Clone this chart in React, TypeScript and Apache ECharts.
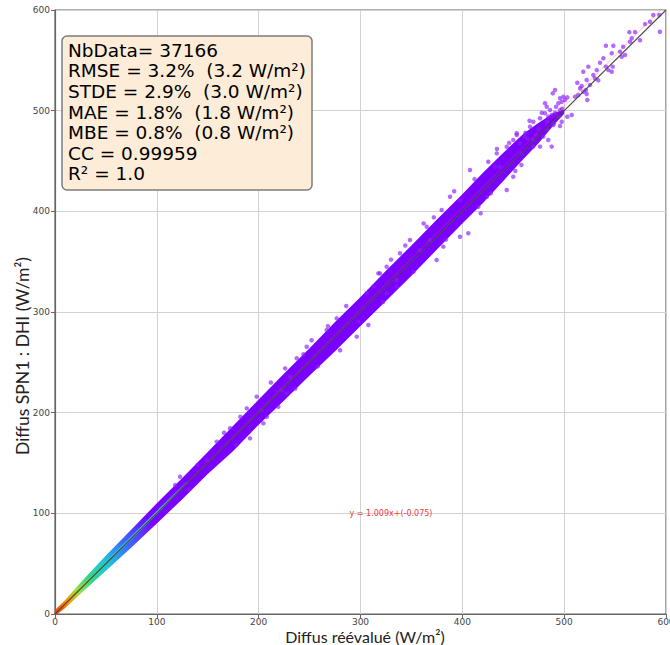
import React, { useEffect, useRef } from "react";
import * as echarts from "echarts";

// Dense core of the scatter cloud: lower / upper envelope
const bandX = [0, 10, 25, 50, 75, 100, 125, 150, 175, 200, 225, 250, 275, 300, 325, 350, 375, 400, 420, 440, 460, 475, 490, 500];
const bandLow = [-2, 6, 20, 43, 66, 90, 114, 139, 162, 188, 212, 237, 261, 286, 311, 336, 362, 388, 408, 430, 452, 468, 486, 497];
const bandHigh = [4, 14, 31, 58, 84, 110, 135, 161, 187, 213, 239, 264, 290, 315, 341, 366, 392, 417, 438, 458, 477, 488, 498, 501];

// Sparse points outside the core
const sparsePoints: [number, number][] = [
  [587.5, 595], [593.4, 595], [594, 578.4], [579.4, 586], [584.3, 588.3], [564, 578],
  [569.6, 578], [566.3, 572], [564.7, 568.5], [574.5, 570], [558, 563.5], [541, 564.5],
  [548.3, 564.5], [546.7, 557], [554.9, 558.6], [556.5, 553.6], [559.8, 555.3], [538.5, 552],
  [535.2, 547.6], [541, 543.7], [532, 540.3], [547.7, 543.7], [543.4, 540.3], [546.7, 538.7],
  [523.7, 543.7], [518.8, 538.7], [528.6, 535.4], [522.1, 530.4], [530.3, 532], [525.4, 525.5],
  [533.5, 530.1], [512.9, 527.8], [515.6, 522.2], [517.2, 524.5], [518.8, 518.8], [521.4, 520.5],
  [513.9, 515.6], [510.7, 513.9], [522.7, 510.6], [522.1, 516.5], [491, 520.5], [488.8, 517.2],
  [495.9, 512.3], [499.2, 513.9], [494.3, 507.3], [500.8, 510.6], [503.1, 513.2], [497.6, 508.9],
  [492, 503.9], [482.9, 503.9], [481.2, 507.3], [486.1, 500.6], [495.9, 500.6], [487.8, 495.7],
  [481.2, 497.4], [494.3, 494], [507.4, 495.7], [503.1, 494], [497.6, 489], [490, 487.4],
  [484.4, 494], [476.3, 492.4], [469.7, 489], [466.5, 484], [474.6, 482.4], [482.9, 480.8],
  [489.3, 485.7], [495.9, 484.7], [484.4, 470.9], [479.5, 474.2], [469.7, 470.9], [461.5, 474.2],
  [453.4, 475.9], [450, 470.9], [456.6, 467.6], [487.8, 464.3], [469.7, 464.3], [476.3, 464.3],
  [453.4, 477.5], [407.5, 441], [433.8, 457.6], [425.5, 449.3], [437, 444.3], [443.6, 421.2],
  [450, 434.4], [379.7, 401.3], [397.7, 411.2], [387.9, 414.5], [405.9, 378.2], [397.7, 374.8],
  [415.7, 404.6], [424, 414.5], [348.6, 371.5], [365, 384.7], [368.3, 371.5], [358.4, 361.6],
  [338.8, 358.3], [381.3, 364.9], [374.8, 351.6], [319.2, 338.4], [325.7, 345], [335.6, 331.8],
  [306.1, 318.6], [312.6, 325.2], [443.6, 464.2], [432.1, 444.3],
  [317.5, 338.4], [296.3, 275.5], [237.4, 254], [297.8, 290.4], [307.7, 287.1], [325.7, 318.6],
  [335.6, 325.2], [266.8, 282.1], [276.6, 293.7], [247.2, 265.5], [222.6, 222.5], [230.8, 235.7],
  [204.6, 189.4], [198.1, 215.9], [227.5, 219.2], [219.3, 205.9],
  [191.5, 174.5], [158.8, 171.2], [171.9, 184.5], [188.3, 204.3], [203, 202.6], [149, 153],
  [122.8, 136.4],
  [412, 432], [418, 398], [428, 418], [434, 462], [446, 468], [452, 440], [458, 446], [462, 478],
  [392, 420], [384, 372], [372, 394], [362, 388], [352, 340], [344, 366], [330, 352], [322, 310],
  [286, 306], [280, 262], [268, 286], [258, 246], [252, 272], [244, 258], [236, 224], [226, 244],
  [212, 230], [208, 196], [182, 196], [178, 168], [166, 180], [140, 148], [132, 124], [118, 128],
  [478, 498], [472, 476], [464, 472], [458, 458], [466, 490], [483, 489], [491, 498], [498, 502],
];

// Density-coloured centre of the cloud near the origin
const coreLineX = [0, 130];
const coreLineY = [0, 131];

// 1:1 reference line and fitted line
const oneToOneX = [0, 600];
const oneToOneY = [0, 600];
const fitX = [0, 600];
const fitY = [-0.075, 605.3];

const fitLabel = "y = 1.009x+(-0.075)";
const fitLabelPos = [330, 100];

const statLines = [
  "NbData= 37166",
  "RMSE = 3.2%  (3.2 W/m²)",
  "STDE = 2.9%  (3.0 W/m²)",
  "MAE = 1.8%  (1.8 W/m²)",
  "MBE = 0.8%  (0.8 W/m²)",
  "CC = 0.99959",
  "R² = 1.0",
];

const xTitle = "Diffus réévalué (W/m²)";
const yTitle = "Diffus SPN1 : DHI (W/m²)";

export default function App() {
  const ref = useRef<HTMLDivElement>(null);

  useEffect(() => {
    if (!ref.current) return;
    const chart = echarts.init(ref.current, undefined, { renderer: "svg" });

    const bandGradient = new echarts.graphic.LinearGradient(0, 1, 1, 0, [
      { offset: 0, color: "#ff2a00" },
      { offset: 0.025, color: "#ff8c00" },
      { offset: 0.045, color: "#9be23a" },
      { offset: 0.07, color: "#2ed88c" },
      { offset: 0.1, color: "#1ec8d8" },
      { offset: 0.14, color: "#3a6cff" },
      { offset: 0.19, color: "#7a00ff" },
      { offset: 1, color: "#7a00ff" },
    ]);

    const coreGradient = new echarts.graphic.LinearGradient(0, 1, 1, 0, [
      { offset: 0, color: "#ff3000" },
      { offset: 0.1, color: "#ff9900" },
      { offset: 0.2, color: "#a0e030" },
      { offset: 0.32, color: "#30d890" },
      { offset: 0.45, color: "#20c8d8" },
      { offset: 0.8, color: "#30b8e8" },
      { offset: 1, color: "#6a30ff" },
    ]);

    const axisCommon = {
      type: "value" as const,
      min: 0,
      max: 600,
      interval: 100,
      axisLine: { show: true, lineStyle: { color: "#666", width: 1.2 } },
      axisTick: { show: true, length: 4, lineStyle: { color: "#666" } },
      splitLine: { show: true, lineStyle: { color: "#d2d2d2", width: 1 } },
    };

    chart.setOption({
      animation: false,
      backgroundColor: "#ffffff",
      grid: {
        left: 55,
        right: 4,
        top: 10,
        bottom: 31,
        outerBoundsMode: "none",
        containLabel: false,
        show: true,
        borderColor: "#666",
        borderWidth: 1.2,
        backgroundColor: "transparent",
      },
      xAxis: {
        ...axisCommon,
        axisLabel: { color: "#444", fontSize: 9, fontFamily: "DejaVu Sans", margin: 3 },
      },
      yAxis: {
        ...axisCommon,
        axisLabel: { color: "#444", fontSize: 9, fontFamily: "DejaVu Sans", margin: 5 },
      },
      series: [
        {
          type: "custom",
          name: "band",
          clip: true,
          z: 2,
          data: bandX.map((x, i) => [x, bandLow[i], bandHigh[i]]),
          renderItem: (params: any, api: any) => {
            if (params.dataIndex !== 0) return null;
            const pts: number[][] = [];
            for (let i = 0; i < bandX.length; i++) pts.push(api.coord([bandX[i], bandHigh[i]]));
            for (let i = bandX.length - 1; i >= 0; i--) pts.push(api.coord([bandX[i], bandLow[i]]));
            return {
              type: "polygon",
              shape: { points: pts },
              style: { fill: bandGradient, stroke: "none" },
            };
          },
        },
        {
          type: "scatter",
          name: "points",
          z: 3,
          symbolSize: 4.5,
          itemStyle: { color: "#8a1cff", opacity: 0.65 },
          data: sparsePoints,
        },
        {
          type: "line",
          name: "core",
          z: 4,
          symbol: "none",
          lineStyle: { color: coreGradient, width: 2.5 },
          data: coreLineX.map((x, i) => [x, coreLineY[i]]),
        },
        {
          type: "line",
          name: "fit",
          z: 5,
          symbol: "none",
          lineStyle: { color: "rgba(255,60,60,0.35)", width: 1 },
          data: fitX.map((x, i) => [x, fitY[i]]),
          markPoint: {
            symbol: "circle",
            symbolSize: 0,
            silent: true,
            label: {
              show: true,
              position: "inside",
              formatter: fitLabel,
              color: "#e8403f",
              fontSize: 8,
              fontFamily: "DejaVu Sans",
            },
            data: [{ coord: fitLabelPos, value: 0 }],
          },
        },
        {
          type: "line",
          name: "1:1",
          z: 6,
          symbol: "none",
          lineStyle: { color: "#4a4a4a", width: 1.1 },
          data: oneToOneX.map((x, i) => [x, oneToOneY[i]]),
        },
      ],
      graphic: [
        {
          type: "rect",
          z: 100,
          shape: { x: 62, y: 36, width: 250, height: 154, r: 5 },
          style: { fill: "#fcecd8", stroke: "#7c7c7c", lineWidth: 1.5 },
        },
        {
          type: "text",
          z: 101,
          x: 68,
          y: 40,
          style: {
            text: statLines.join("\n"),
            fill: "#000",
            font: "18.5px 'DejaVu Sans'",
            lineHeight: 20.6,
            textAlign: "left",
            textVerticalAlign: "top",
          },
        },
        {
          type: "text",
          x: 365,
          y: 636,
          style: {
            text: xTitle,
            fill: "#222",
            font: "16px Lato",
            textAlign: "center",
            textVerticalAlign: "middle",
          },
        },
        {
          type: "text",
          x: 22,
          y: 356,
          rotation: Math.PI / 2,
          style: {
            text: yTitle,
            fill: "#222",
            font: "17.5px Lato",
            textAlign: "center",
            textVerticalAlign: "middle",
          },
        },
      ],
    });

    return () => {
      chart.dispose();
    };
  }, []);

  return (
    <div
      ref={ref}
      style={{ position: "fixed", left: 0, top: 0, width: 670, height: 645, background: "#fff" }}
    />
  );
}
